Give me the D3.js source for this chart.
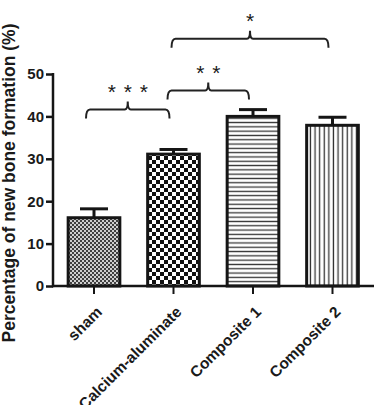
<!DOCTYPE html>
<html>
<head>
<meta charset="utf-8">
<script src="https://cdn.jsdelivr.net/npm/d3@7"></script>
<style>
  html, body { margin: 0; padding: 0; background: #fff; }
  svg text { font-family: "Liberation Sans", Arial, sans-serif; fill: #1a1a1a; }
</style>
</head>
<body>
<svg id="chart" width="374" height="405"></svg>
<script>
// data
const categories = ['sham', 'Calcium-aluminate', 'Composite 1', 'Composite 2'];
const means = [16.1, 31.1, 40.0, 37.9];
const errors = [2.1, 1.1, 1.6, 1.9];
const patterns = ['fineChecker', 'checker', 'hLines', 'vLines'];
const yTicks = [0, 10, 20, 30, 40, 50];
const brackets = [
    { from: 'sham', to: 'Calcium-aluminate', level: 41.6, stars: 3 },
    { from: 'Calcium-aluminate', to: 'Composite 1', level: 46.1, stars: 2 },
    { from: 'Calcium-aluminate', to: 'Composite 2', level: 58.3, stars: 1 }
];

const svg = d3.select('#chart');
const ink = '#151515';

// patterns
const defs = svg.append('defs');
const fc = defs.append('pattern').attr('id', 'fineChecker')
    .attr('patternUnits', 'userSpaceOnUse').attr('width', 4).attr('height', 4);
fc.append('rect').attr('width', 4).attr('height', 4).attr('fill', '#cfcfcf');
fc.append('rect').attr('width', 2).attr('height', 2).attr('fill', '#404040');
fc.append('rect').attr('x', 2).attr('y', 2).attr('width', 2).attr('height', 2).attr('fill', '#404040');

const ck = defs.append('pattern').attr('id', 'checker')
    .attr('patternUnits', 'userSpaceOnUse').attr('width', 8).attr('height', 8);
ck.append('rect').attr('width', 8).attr('height', 8).attr('fill', '#fff');
ck.append('rect').attr('width', 4).attr('height', 4).attr('fill', '#111');
ck.append('rect').attr('x', 4).attr('y', 4).attr('width', 4).attr('height', 4).attr('fill', '#111');

const hl = defs.append('pattern').attr('id', 'hLines')
    .attr('patternUnits', 'userSpaceOnUse').attr('width', 8).attr('height', 4.3);
hl.append('rect').attr('width', 8).attr('height', 4.3).attr('fill', '#fff');
hl.append('rect').attr('y', 1.5).attr('width', 8).attr('height', 1.3).attr('fill', '#333');

const vl = defs.append('pattern').attr('id', 'vLines')
    .attr('patternUnits', 'userSpaceOnUse').attr('width', 4.6).attr('height', 8);
vl.append('rect').attr('width', 4.6).attr('height', 8).attr('fill', '#fff');
vl.append('rect').attr('x', 1.6).attr('width', 1.3).attr('height', 8).attr('fill', '#333');

// scales
const x = d3.scaleBand()
    .domain(categories)
    .range([54.25, 372.25])
    .paddingInner(0.35)
    .paddingOuter(0.175);

const y = d3.scaleLinear()
    .domain([0, 50])
    .range([286, 74]);

const cx = c => x(c) + x.bandwidth() / 2;
const data = categories.map((c, i) => ({ c, m: means[i], e: errors[i], p: patterns[i] }));

// error bars (upper half only)
const eb = svg.append('g').attr('stroke', ink).attr('stroke-width', 3);
eb.selectAll('.stem').data(data).enter().append('line')
    .attr('x1', d => cx(d.c)).attr('x2', d => cx(d.c))
    .attr('y1', d => y(d.m)).attr('y2', d => y(d.m + d.e));
eb.selectAll('.cap').data(data).enter().append('line')
    .attr('x1', d => cx(d.c) - 14).attr('x2', d => cx(d.c) + 14)
    .attr('y1', d => y(d.m + d.e)).attr('y2', d => y(d.m + d.e));

// bars
svg.append('g').selectAll('rect')
    .data(data)
    .enter().append('rect')
    .attr('x', d => x(d.c))
    .attr('width', x.bandwidth())
    .attr('y', d => y(d.m))
    .attr('height', d => y(0) - y(d.m))
    .attr('fill', d => `url(#${d.p})`)
    .attr('stroke', ink)
    .attr('stroke-width', 3);

// y axis
const yAxis = d3.axisLeft(y).tickValues(yTicks).tickSize(7).tickPadding(2);
const gy = svg.append('g').attr('transform', 'translate(53,0)').call(yAxis);
gy.select('.domain').remove();
gy.selectAll('.tick line').attr('stroke', ink).attr('stroke-width', 2.5);
gy.selectAll('.tick text')
    .attr('font-size', 15).attr('font-weight', 'bold')
    .attr('font-family', '"Liberation Sans", Arial, sans-serif').attr('fill', ink);
svg.append('line').attr('x1', 53).attr('x2', 53).attr('y1', y(50) - 1).attr('y2', y(0) + 1.2)
    .attr('stroke', ink).attr('stroke-width', 2.5);

// x axis
const xAxis = d3.axisBottom(x).tickSize(8).tickFormat('');
const gx = svg.append('g').attr('transform', `translate(0,${y(0)})`).call(xAxis);
gx.select('.domain').remove();
gx.selectAll('.tick line').attr('stroke', ink).attr('stroke-width', 2);
svg.append('line').attr('x1', 52).attr('x2', 374).attr('y1', y(0)).attr('y2', y(0))
    .attr('stroke', ink).attr('stroke-width', 2.5);

svg.append('g').selectAll('text')
    .data(categories)
    .enter().append('text')
    .attr('transform', c => `translate(${cx(c) + 9},${y(0) + 27}) rotate(-45)`)
    .attr('text-anchor', 'end')
    .attr('font-size', 15.5)
    .attr('font-weight', 'bold')
    .text(c => c);

// y label
svg.append('text')
    .attr('transform', `translate(15,${183}) rotate(-90)`)
    .attr('text-anchor', 'middle')
    .attr('font-size', 17.5)
    .attr('font-weight', 'bold')
    .text('Percentage of new bone formation (%)');

// significance brackets
const shift = [-8, -6, -2];
const bg = svg.append('g').attr('fill', 'none').attr('stroke', '#222').attr('stroke-width', 2);
brackets.forEach((b, i) => {
    const x0 = cx(b.from) + shift[i], x1 = cx(b.to) - 4;
    const yy = y(b.level), mid = (x0 + x1) / 2;
    const p = d3.path();
    p.moveTo(x0, yy + 9);
    p.quadraticCurveTo(x0, yy, x0 + 4, yy);
    p.lineTo(mid - 3, yy);
    p.quadraticCurveTo(mid, yy, mid, yy - 8);
    p.quadraticCurveTo(mid, yy, mid + 3, yy);
    p.lineTo(x1 - 4, yy);
    p.quadraticCurveTo(x1, yy, x1, yy + 9);
    bg.append('path').attr('d', p.toString());
    const offs = d3.range(b.stars).map(k => (k - (b.stars - 1) / 2) * 16);
    svg.append('g').selectAll('text').data(offs).enter().append('text')
        .attr('x', d => mid + d).attr('y', yy - 23 + 12)
        .attr('text-anchor', 'middle')
        .attr('font-size', 21)
        .attr('fill', '#222')
        .text('*');
});
</script>
</body>
</html>
